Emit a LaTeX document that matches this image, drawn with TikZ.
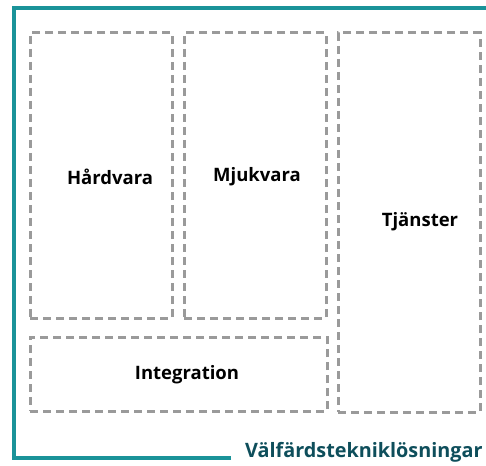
\documentclass[tikz,border=0pt]{standalone}
\usepackage{fontspec}
\setmainfont{Open Sans}
\definecolor{frameteal}{HTML}{1A9399}
\definecolor{titleteal}{HTML}{0E4E5B}
\definecolor{dashgray}{HTML}{9A9A9A}
\begin{document}
\begin{tikzpicture}[x=1pt,y=-1pt,
  part/.style={draw=dashgray,line width=3pt,dash pattern=on 8pt off 5pt,inner sep=0pt,rectangle},
  lbl/.style={font=\fontsize{18.5}{21}\selectfont\bfseries,text=black,inner sep=0pt},
  frame/.style={draw=frameteal,line width=3.2pt}]
\useasboundingbox (0,0) rectangle (486,465);
\coordinate (fbl) at (231,458);
\coordinate (fcl) at (14,458);
\coordinate (ftl) at (14,8);
\coordinate (ftr) at (486,8);
\draw[frame] (fbl) -- (fcl) -- (ftl) -- (ftr);
\node[part,minimum width=142pt,minimum height=285pt] (hw) at (101,175.5) {};
\node[part,minimum width=142pt,minimum height=285pt] (sw) at (255,175.5) {};
\node[part,minimum width=142pt,minimum height=379pt] (tj) at (409,222.5) {};
\node[part,minimum width=297pt,minimum height=74pt] (in) at (178.5,374) {};
\node[lbl] (hwl) at (110,177) {Hårdvara};
\node[lbl] (swl) at (257,177) {Mjukvara};
\node[lbl] (tjl) at (420,222) {Tjänster};
\node[lbl] (inl) at (187,375) {Integration};
\node[lbl,font=\fontsize{19.8}{22}\selectfont\bfseries,text=titleteal,anchor=west] (title) at (245,452) {Välfärdstekniklösningar};
\end{tikzpicture}
\end{document}
